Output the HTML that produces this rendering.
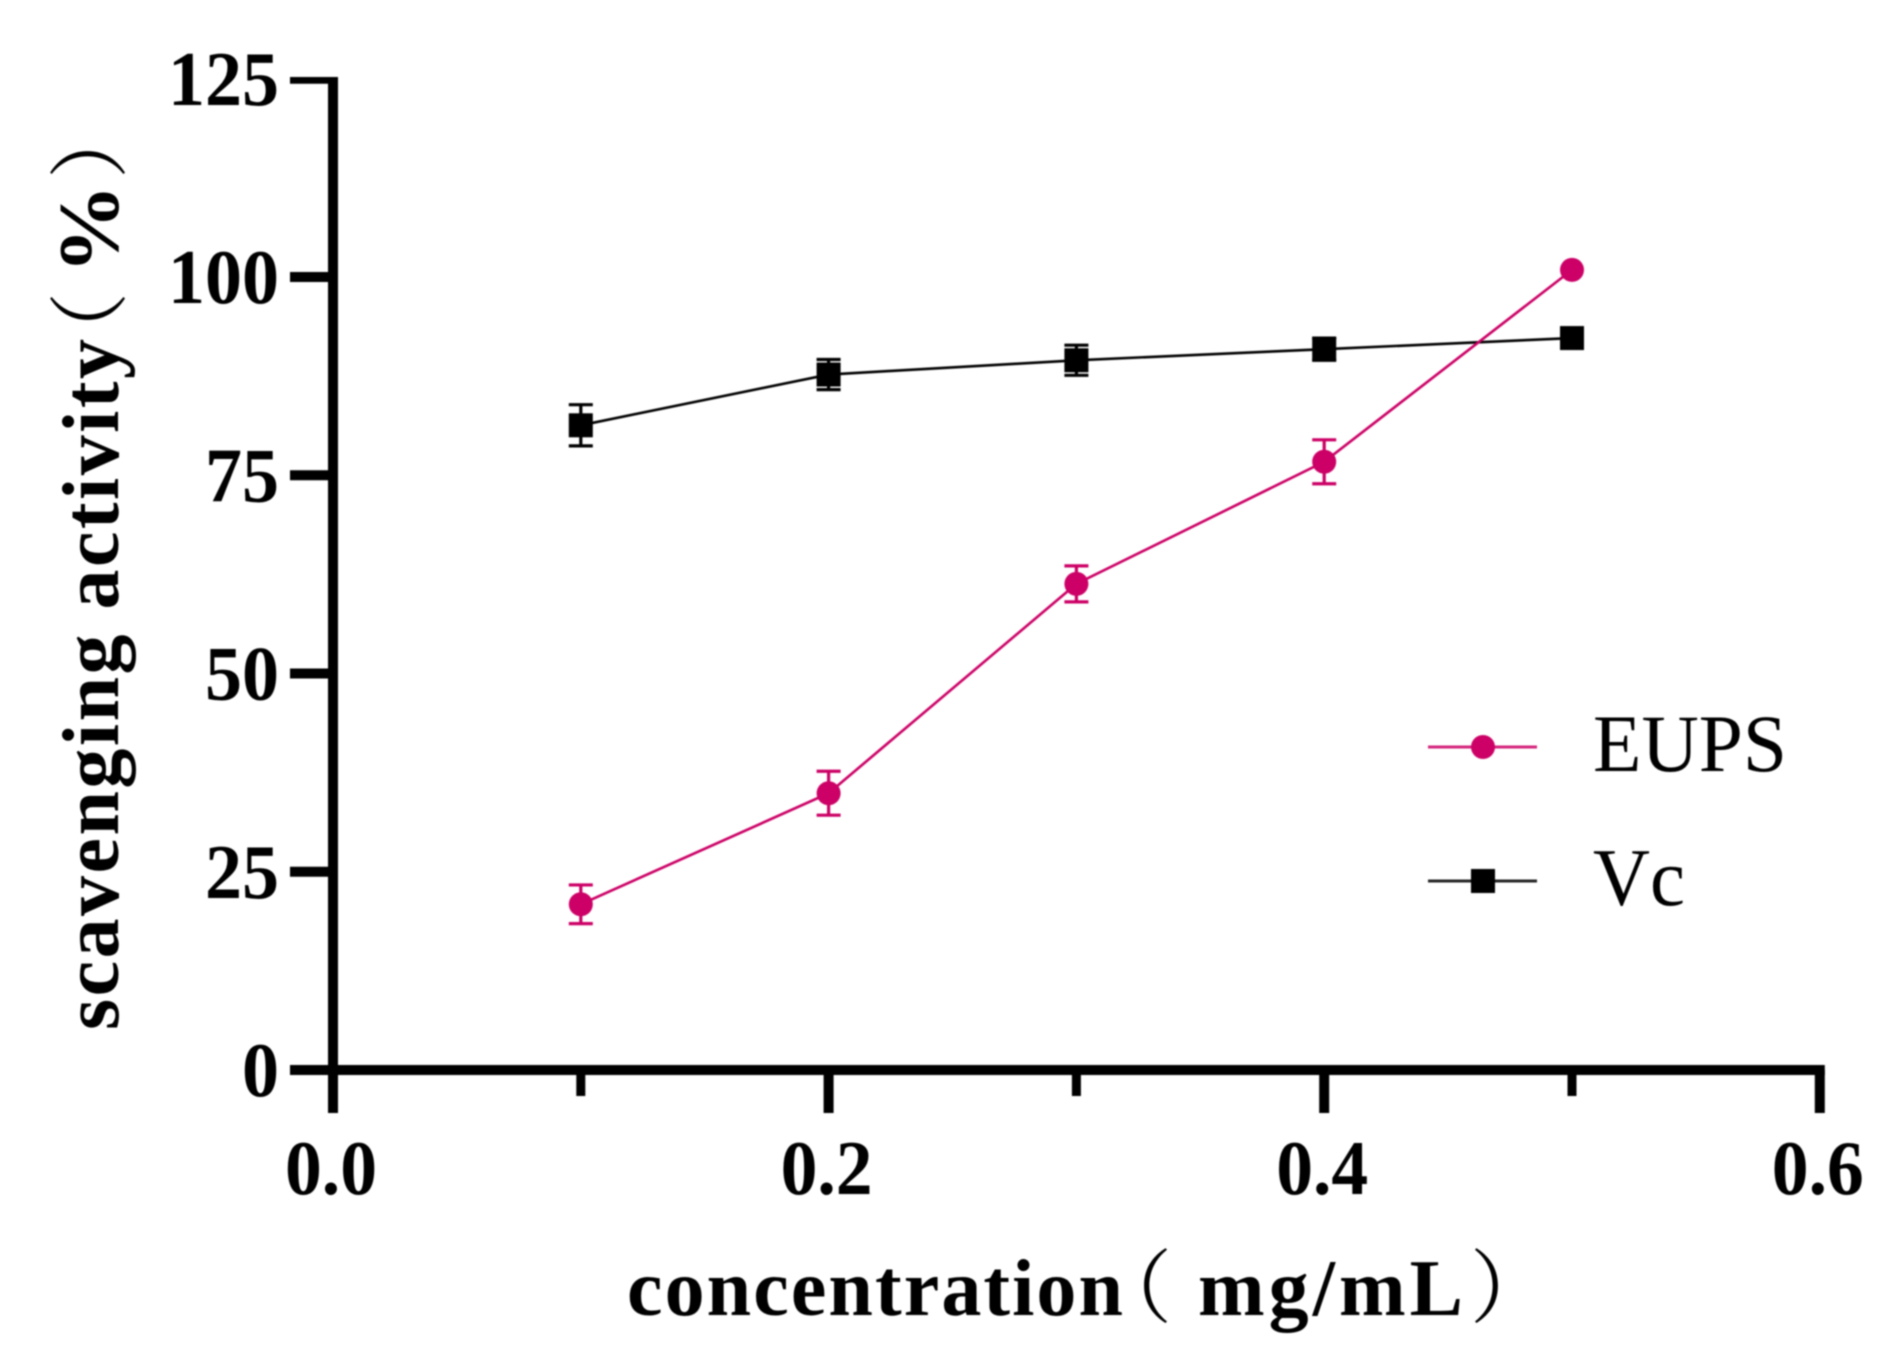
<!DOCTYPE html>
<html lang="en">
<head>
<meta charset="utf-8">
<title>Scavenging activity chart</title>
<style>
html,body{margin:0;padding:0;background:#fff;}
#chart{display:block;width:1900px;height:1364px;filter:blur(0.8px);}
text{font-family:"Liberation Serif","Noto Serif CJK SC",serif;fill:#000;}
.b{font-weight:bold;}
</style>
</head>
<body>
<svg id="chart" xmlns="http://www.w3.org/2000/svg" width="1900" height="1364" viewBox="0 0 1900 1364">
  <defs><clipPath id="axisClip"><rect x="0" y="77" width="1900" height="1287"/></clipPath></defs>
  <rect x="0" y="0" width="1900" height="1364" fill="#fff"/>
  <g id="axes" clip-path="url(#axisClip)"></g>
  <g id="ticklabels"></g>
  <g id="series"></g>

  <g transform="translate(118 1030) rotate(-90)">
    <text class="b" x="0" y="0" font-size="80" textLength="691" lengthAdjust="spacing">scavenging activity</text>
    <text x="658" y="0" font-size="80">（</text>
    <text class="b" x="756" y="0" font-size="86" textLength="90" lengthAdjust="spacingAndGlyphs">%</text>
    <text x="851" y="0" font-size="80">）</text>
  </g>

  <g>
    <text class="b" x="627" y="1315" font-size="80" textLength="496" lengthAdjust="spacing">concentration</text>
    <text x="1092" y="1316" font-size="80">（</text>
    <text class="b" x="1198" y="1315" font-size="80" textLength="265" lengthAdjust="spacing">mg/mL</text>
    <text x="1470" y="1316" font-size="80">）</text>
  </g>

  <g>
    <g>
      <line x1="1428" y1="747" x2="1537" y2="747" stroke="#cc0066" stroke-width="3" opacity="0.85"/>
      <circle cx="1483" cy="747" r="12" fill="#cc0066"/>
      <text x="1593" y="771" font-size="82" textLength="194" lengthAdjust="spacingAndGlyphs">EUPS</text>
    </g>
    <g>
      <line x1="1428" y1="881" x2="1537" y2="881" stroke="#000" stroke-width="3" opacity="0.85"/>
      <rect x="1471" y="869" width="24" height="24" fill="#000"/>
      <text x="1593" y="905" font-size="82" textLength="92" lengthAdjust="spacingAndGlyphs">Vc</text>
    </g>
  </g>
</svg>
<script>
const concentrations = [0.1, 0.2, 0.3, 0.4, 0.5];
const eupsValues = [20.9, 34.9, 61.3, 76.7, 100.9];
const eupsErrors = [2.44, 2.77, 2.27, 2.77, 0];
const vcValues = [81.3, 87.7, 89.5, 90.9, 92.3];
const vcErrors = [2.6, 1.9, 1.9, 1.4, 0.3];
const yTicks = [0, 25, 50, 75, 100, 125];
const xMajorTicks = [0.0, 0.2, 0.4, 0.6];
const xMinorTicks = [0.1, 0.3, 0.5];
const xTickLabels = ["0.0", "0.2", "0.4", "0.6"];

const NS = "http://www.w3.org/2000/svg";
function xScale(v) { return 333 + 2478 * v; }
function yScale(v) { return 1070 - 7.93 * v; }
function make(tag, attrs, parent) {
  const el = document.createElementNS(NS, tag);
  for (const k in attrs) el.setAttribute(k, attrs[k]);
  parent.appendChild(el);
  return el;
}
const axes = document.getElementById("axes");
const labels = document.getElementById("ticklabels");
const seriesG = document.getElementById("series");

const yAxis = make("line", {x1: xScale(0), y1: yScale(125) - 6, x2: xScale(0), y2: 1113, stroke: "#000", "stroke-width": 10}, axes);


const xAxis = make("line", {x1: 290, y1: yScale(0), x2: xScale(0.6) + 5, y2: yScale(0), stroke: "#000", "stroke-width": 10}, axes);



yTicks.forEach(function (t) {
  const tick = make("line", {x1: 290, y1: yScale(t), x2: xScale(0), y2: yScale(t), stroke: "#000", "stroke-width": 10}, axes);
  
  
  const s = String(t);
  const lab = make("text", {x: 279, y: yScale(t) + 26, "font-size": 77, "text-anchor": "end", textLength: 37 * s.length, lengthAdjust: "spacingAndGlyphs", class: "b"}, labels);
  lab.textContent = s;
  
  
});

xMajorTicks.forEach(function (t, i) {
  const tick = make("line", {x1: xScale(t), y1: yScale(0), x2: xScale(t), y2: 1113, stroke: "#000", "stroke-width": 10}, axes);
  
  
  const lab = make("text", {x: xScale(t) - 2, y: 1194, "font-size": 77, "text-anchor": "middle", textLength: 92, lengthAdjust: "spacingAndGlyphs", class: "b"}, labels);
  lab.textContent = xTickLabels[i];
  
  
});

xMinorTicks.forEach(function (t) {
  const tick = make("line", {x1: xScale(t), y1: yScale(0), x2: xScale(t), y2: 1096, stroke: "#000", "stroke-width": 9}, axes);
  
  
});

function drawSeries(key, values, errors, color, shape) {
  const g = make("g", {}, seriesG);
  
  
  const pts = values.map(function (v, i) { return xScale(concentrations[i]) + "," + yScale(v); }).join(" ");
  const line = make("polyline", {points: pts, fill: "none", stroke: color, "stroke-width": 2.6}, g);
  
  
  values.forEach(function (v, i) {
    const x = xScale(concentrations[i]);
    const y = yScale(v);
    const e = errors[i];
    const hi = yScale(v + e);
    const lo = yScale(v - e);
    if (e > 0) {
      const bar = make("path", {d: "M" + (x - 12) + " " + hi + "H" + (x + 12) + "M" + x + " " + hi + "V" + lo + "M" + (x - 12) + " " + lo + "H" + (x + 12), fill: "none", stroke: color, "stroke-width": 3.2}, g);
      
      
    }
    let m;
    if (shape === "circle") {
      m = make("circle", {cx: x, cy: y, r: 12, fill: color}, g);
    } else {
      m = make("rect", {x: x - 12, y: y - 12, width: 24, height: 24, fill: color}, g);
    }
    
    
  });
}
drawSeries("vc", vcValues, vcErrors, "#000000", "square");
drawSeries("eups", eupsValues, eupsErrors, "#cc0066", "circle");
</script>
</body>
</html>
